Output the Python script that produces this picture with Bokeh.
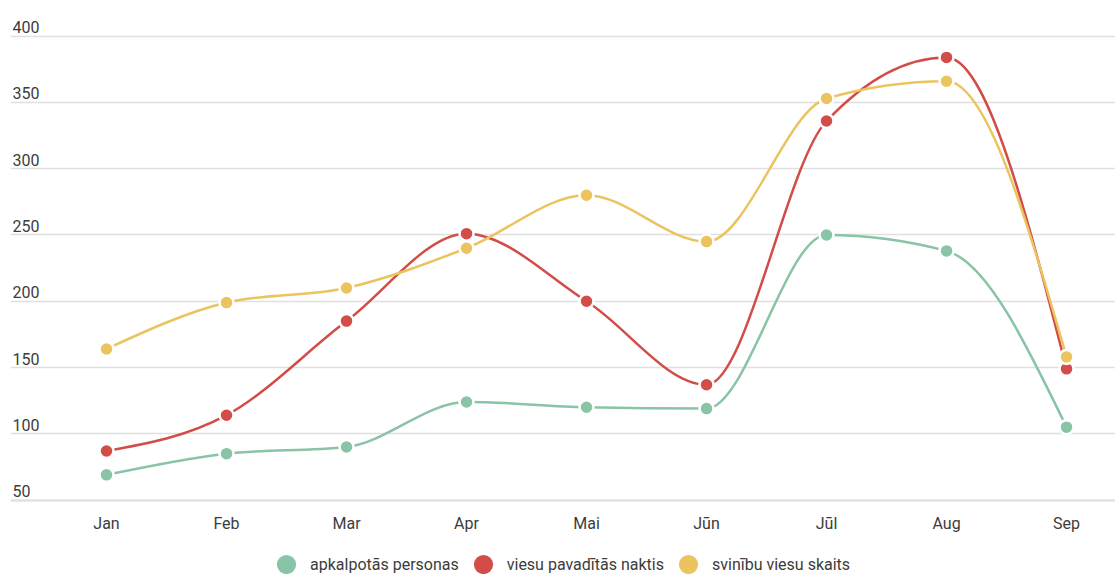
from bokeh.plotting import figure
from bokeh.models import (FixedTicker, Legend, LegendItem, LinearAxis, Range1d,
                          ColumnDataSource)
from bokeh.core.properties import value
from bokeh.embed import file_html
from bokeh.resources import INLINE

# Monthly figures
months = ["Jan", "Feb", "Mar", "Apr", "Mai", "Jūn", "Jūl", "Aug", "Sep"]
apkalpotas_personas = [69, 85, 90, 124, 120, 119, 250, 238, 105]
viesu_naktis = [87, 114, 185, 251, 200, 137, 336, 384, 149]
svinibu_viesi = [164, 199, 210, 240, 280, 245, 353, 366, 158]

series_names = ["apkalpotās personas", "viesu pavadītās naktis", "svinību viesu skaits"]
series_values = [apkalpotas_personas, viesu_naktis, svinibu_viesi]
series_colors = ["#88C4A5", "#D24C48", "#EBC45F"]

y_ticks = [50, 100, 150, 200, 250, 300, 350, 400]

FONT = "Roboto"
TEXT_COLOR = "#3c3c3c"
GRID_COLOR = "#e0e0e0"


def _sign(v):
    return (v > 0) - (v < 0)


def monotone_tangents(ys):
    """Tangents of a monotone cubic (Fritsch-Carlson style) through evenly spaced points."""
    n = len(ys)
    t = [0.0] * n
    for i in range(1, n - 1):
        s0 = ys[i] - ys[i - 1]
        s1 = ys[i + 1] - ys[i]
        p = (s0 + s1) / 2.0
        t[i] = (_sign(s0) + _sign(s1)) * min(abs(s0), abs(s1), 0.5 * abs(p))
    t[0] = (3 * (ys[1] - ys[0]) - t[1]) / 2.0
    t[-1] = (3 * (ys[-1] - ys[-2]) - t[-2]) / 2.0
    return t


def bezier_source(xs, ys):
    t = monotone_tangents(ys)
    d = dict(x0=[], y0=[], x1=[], y1=[], cx0=[], cy0=[], cx1=[], cy1=[])
    for i in range(len(xs) - 1):
        dx = (xs[i + 1] - xs[i]) / 3.0
        d["x0"].append(xs[i]); d["y0"].append(ys[i])
        d["x1"].append(xs[i + 1]); d["y1"].append(ys[i + 1])
        d["cx0"].append(xs[i] + dx); d["cy0"].append(ys[i] + dx * t[i])
        d["cx1"].append(xs[i + 1] - dx); d["cy1"].append(ys[i + 1] - dx * t[i + 1])
    return ColumnDataSource(d)


xs = list(range(len(months)))

# the frame runs to the bottom edge so the legend can live inside it;
# the month axis is pinned at the lowest grid value
p = figure(width=1115, height=574, output_backend="svg", toolbar_location=None,
           x_range=Range1d(-0.8, 8.408), y_range=Range1d(-6.2, 411.85),
           x_axis_location=None, y_axis_location=None,
           min_border_left=10, min_border_right=0, min_border_top=20,
           min_border_bottom=0)
p.outline_line_color = None
p.background_fill_color = "white"
p.border_fill_color = "white"

xaxis = LinearAxis(fixed_location=y_ticks[0], ticker=FixedTicker(ticks=xs),
                   major_label_overrides={i: m for i, m in enumerate(months)},
                   major_tick_line_color=None, minor_tick_line_color=None,
                   axis_line_color=GRID_COLOR, axis_line_width=2,
                   major_label_standoff=8, major_label_text_font=FONT,
                   major_label_text_font_size="16px",
                   major_label_text_color=TEXT_COLOR)
p.add_layout(xaxis, "below")

# horizontal grid only
p.xgrid.visible = False
p.ygrid.ticker = FixedTicker(ticks=y_ticks)
p.ygrid.grid_line_color = GRID_COLOR
p.ygrid.grid_line_width = 1.5

# value labels sitting on top of the grid lines
p.text(x=[-0.8] * len(y_ticks), y=y_ticks, text=[str(v) for v in y_ticks],
       x_offset=2, y_offset=-3, text_baseline="bottom", text_align="left",
       text_font=value(FONT), text_font_size="16px", text_color=TEXT_COLOR)

legend_items = []
for name, vals, col in zip(series_names, series_values, series_colors):
    p.bezier(x0="x0", y0="y0", x1="x1", y1="y1", cx0="cx0", cy0="cy0",
             cx1="cx1", cy1="cy1", source=bezier_source(xs, vals),
             line_color=col, line_width=2.5)
    # plain filled dots (no halo) – these also supply the legend swatch
    swatch = p.scatter(xs, vals, size=14, fill_color=col, line_color=None)
    p.scatter(xs, vals, size=14, fill_color=col, line_color="white",
              line_width=2.5)
    legend_items.append(LegendItem(label=name, renderers=[swatch]))

legend = Legend(items=legend_items, orientation="horizontal", location=(252, -14),
                glyph_width=48, glyph_height=48, label_standoff=0, spacing=0,
                padding=0, margin=0, border_line_color=None,
                background_fill_alpha=0,
                label_text_font=FONT, label_text_font_size="16px",
                label_text_color=TEXT_COLOR)
p.add_layout(legend, "center")

open("out.html", "w").write(file_html(p, INLINE))
